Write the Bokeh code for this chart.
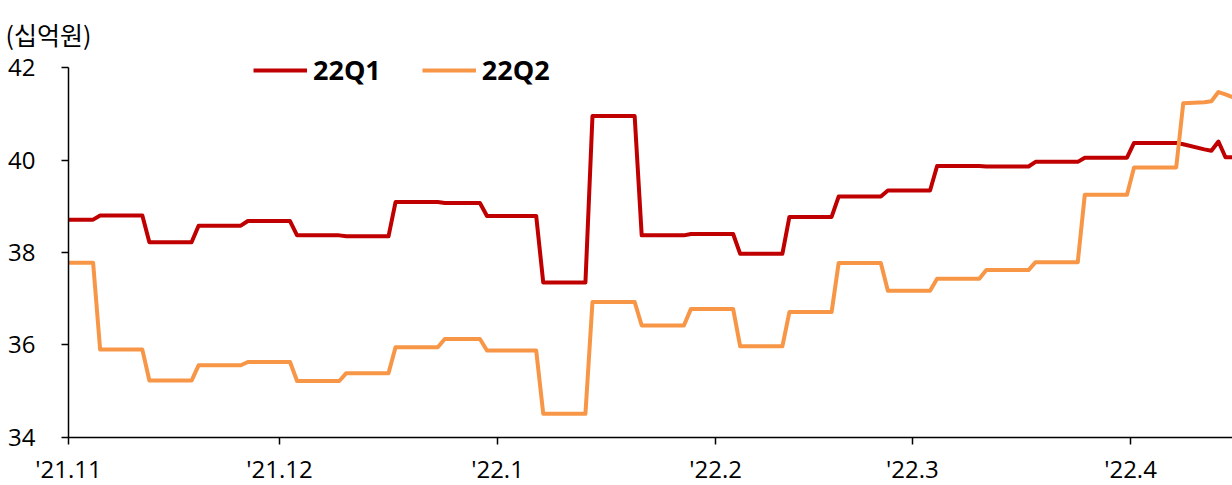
import pandas as pd
from bokeh.plotting import figure
from bokeh.models import Range1d, FixedTicker, Legend, LegendItem, Label
from bokeh.embed import file_html
from bokeh.resources import INLINE

# ---------------- data ----------------
series_names = ["22Q1", "22Q2"]
unit_label = "(십억원)"

# dates on which the weekly consensus value changed
change_dates = [
    "2021-11-01", "2021-11-05", "2021-11-12", "2021-11-19", "2021-11-26",
    "2021-12-03", "2021-12-10", "2021-12-17", "2021-12-24", "2021-12-30",
    "2022-01-07", "2022-01-14", "2022-01-21", "2022-01-28", "2022-02-04",
    "2022-02-11", "2022-02-18", "2022-02-25", "2022-03-04", "2022-03-11",
    "2022-03-18", "2022-03-25", "2022-04-01",
]
q1_weekly = [
    38.71, 38.80, 38.22, 38.58, 38.68,
    38.37, 38.35, 39.09, 39.07, 38.79,
    37.35, 40.95, 38.37, 38.40, 37.97,
    38.77, 39.21, 39.34, 39.87, 39.86,
    39.96, 40.05, 40.37,
]
q2_weekly = [
    37.78, 35.90, 35.23, 35.56, 35.63,
    35.22, 35.39, 35.95, 36.13, 35.88,
    34.51, 36.93, 36.42, 36.78, 35.97,
    36.71, 37.77, 37.17, 37.43, 37.62,
    37.79, 39.25, 39.84,
]
# daily values at the end of the period
tail_dates = ["2022-04-08", "2022-04-11", "2022-04-12", "2022-04-13", "2022-04-14", "2022-04-15"]
q1_tail = [40.34, 40.23, 40.20, 40.40, 40.06, 40.06]
q2_tail = [41.23, 41.25, 41.27, 41.47, 41.42, 41.36]

tick_dates = ["2021-11-01", "2021-12-01", "2022-01-01", "2022-02-01", "2022-03-01", "2022-04-01"]
tick_labels = ["'21.11", "'21.12", "'22.1", "'22.2", "'22.3", "'22.4"]
y_ticks = [34, 36, 38, 40, 42]
y_min, y_max = 34, 42
axis_start, axis_end = "2021-11-01", "2022-04-15 12:00"

# ---------------- build step lines ----------------
HALF = pd.Timedelta(hours=12)
ONE_DAY = pd.Timedelta(days=1)


def build(weekly, tail):
    cd = list(pd.to_datetime(change_dates))
    td = list(pd.to_datetime(tail_dates))
    nxt = cd[1:] + [td[0]]
    xs, ys = [], []
    for i, (d, v) in enumerate(zip(cd, weekly)):
        xs.append(d if i == 0 else d + HALF)
        ys.append(v)
        xs.append(nxt[i] - ONE_DAY + HALF)
        ys.append(v)
    for d, v in zip(td, tail):
        xs.append(d + HALF)
        ys.append(v)
    return xs, ys


q1_x, q1_y = build(q1_weekly, q1_tail)
q2_x, q2_y = build(q2_weekly, q2_tail)


def ms(d):
    return float(pd.Timestamp(d).value // 10**6)


# ---------------- figure ----------------
# frame covers the whole canvas; the axes are pinned at fixed locations
p = figure(
    width=1232, height=485,
    x_axis_type="datetime",
    output_backend="svg", toolbar_location=None,
    x_range=Range1d(pd.Timestamp("2021-10-22 08:00"), pd.Timestamp(axis_end)),
    y_range=Range1d(32.96, 43.45),
    min_border=0,
)
p.xgrid.visible = False
p.ygrid.visible = False
p.outline_line_color = None
p.background_fill_color = "white"
p.border_fill_color = "white"

r1 = p.line(q1_x, q1_y, line_color="#C00000", line_width=4, line_join="round")
r2 = p.line(q2_x, q2_y, line_color="#F79646", line_width=4, line_join="round")

tick_ms = [ms(d) for d in tick_dates]
p.xaxis.ticker = FixedTicker(ticks=tick_ms)
p.xaxis.major_label_overrides = {t: lab for t, lab in zip(tick_ms, tick_labels)}
p.yaxis.ticker = FixedTicker(ticks=y_ticks)
p.xaxis.fixed_location = y_min
p.yaxis.fixed_location = ms(axis_start)
p.xaxis.bounds = (ms(axis_start), ms(axis_end))
p.yaxis.bounds = (y_min, y_max)

for ax in (p.xaxis[0], p.yaxis[0]):
    ax.axis_line_color = "black"
    ax.axis_line_width = 1.5
    ax.major_tick_line_color = "black"
    ax.major_tick_line_width = 1.5
    ax.major_tick_in = 0
    ax.major_tick_out = 7
    ax.minor_tick_line_color = None
    ax.major_label_text_font = "Open Sans"
    ax.major_label_text_font_size = "24px"
    ax.major_label_text_color = "black"
p.yaxis.major_label_standoff = 26
p.xaxis.major_label_standoff = 8

legend = Legend(
    items=[LegendItem(label=series_names[0], renderers=[r1]),
           LegendItem(label=series_names[1], renderers=[r2])],
    orientation="horizontal", location=(253, 397),
    padding=0, margin=0, spacing=41,
    glyph_width=54, glyph_height=36, label_height=36, label_standoff=6,
    label_text_font="Open Sans", label_text_font_style="bold",
    label_text_font_size="27px", label_text_color="black",
    border_line_color=None, background_fill_alpha=0,
)
p.add_layout(legend)

p.add_layout(Label(x=5, y=452, x_units="screen", y_units="screen", text=unit_label,
                   text_font="Noto Sans CJK KR", text_font_size="25px",
                   text_baseline="alphabetic", text_color="black"))

open("out.html", "w").write(file_html(p, INLINE))
